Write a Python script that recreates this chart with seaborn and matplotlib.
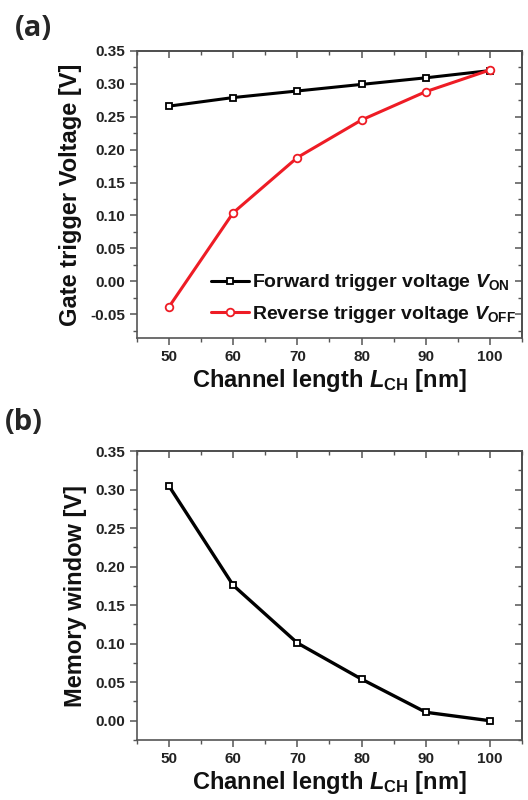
import matplotlib
matplotlib.use("Agg")
import matplotlib.pyplot as plt
import seaborn as sns
from matplotlib.ticker import MultipleLocator

# --- Data ---
channel_length = [50, 60, 70, 80, 90, 100]
v_on = [0.266, 0.279, 0.289, 0.299, 0.309, 0.320]
v_off = [-0.039, 0.104, 0.188, 0.245, 0.288, 0.321]
memory_window = [0.305, 0.176, 0.101, 0.054, 0.011, 0.000]
x_ticks = [50, 60, 70, 80, 90, 100]

sns.set_theme(style="ticks")
plt.rcParams["font.family"] = ["Liberation Sans", "DejaVu Sans"]
plt.rcParams["font.weight"] = "bold"
plt.rcParams["mathtext.fontset"] = "custom"
plt.rcParams["mathtext.it"] = "Liberation Sans:bold:italic"
plt.rcParams["mathtext.rm"] = "Liberation Sans:bold"
plt.rcParams["mathtext.bf"] = "Liberation Sans:bold"

SPINE = "#555555"
RED = "#ee1c25"
XLABEL = r"Channel length $L_{\rm CH}$ [nm]"


def style_axes(ax, ylim, ylabel):
    ax.set_xlim(45, 105)
    ax.set_ylim(*ylim)
    ax.set_xticks(x_ticks)
    ax.xaxis.set_minor_locator(MultipleLocator(5))
    ax.yaxis.set_major_locator(MultipleLocator(0.05))
    ax.yaxis.set_minor_locator(MultipleLocator(0.025))
    ax.yaxis.set_major_formatter(lambda v, p: f"{v:.2f}")
    for s in ax.spines.values():
        s.set_visible(True)
        s.set_color(SPINE)
        s.set_linewidth(1.2)
    ax.tick_params(which="both", direction="out", color=SPINE, labelsize=11,
                   labelcolor="#222222")
    ax.tick_params(which="major", length=5, width=1.1)
    ax.tick_params(which="minor", length=3, width=1.0)
    for lab in ax.get_xticklabels() + ax.get_yticklabels():
        lab.set_fontweight("bold")
    # mirrored ticks on top / right pointing inward
    top = ax.secondary_xaxis("top")
    top.set_xticks(x_ticks)
    top.xaxis.set_minor_locator(MultipleLocator(5))
    top.tick_params(which="both", direction="in", color=SPINE, labeltop=False)
    top.tick_params(which="major", length=5, width=1.1)
    top.tick_params(which="minor", length=3, width=1.0)
    right = ax.secondary_yaxis("right")
    right.yaxis.set_major_locator(MultipleLocator(0.05))
    right.yaxis.set_minor_locator(MultipleLocator(0.025))
    right.tick_params(which="both", direction="in", color=SPINE, labelright=False)
    right.tick_params(which="major", length=5, width=1.1)
    right.tick_params(which="minor", length=3, width=1.0)
    ax.set_xlabel(XLABEL, fontsize=17, fontweight="bold", labelpad=2,
                  color="#111111")
    ax.set_ylabel(ylabel, fontsize=17, fontweight="bold", labelpad=6,
                  color="#111111")


fig = plt.figure(figsize=(5.28, 8), dpi=100)

# --- (a) trigger voltages ---
ax1 = fig.add_axes([0.259, 0.5775, 0.730, 0.359])
sns.lineplot(x=channel_length, y=v_on, ax=ax1, color="black", linewidth=2.2,
             marker="s", markersize=5, markerfacecolor="white",
             markeredgecolor="black", markeredgewidth=1.3,
             label=r"Forward trigger voltage $V_{\rm ON}$")
sns.lineplot(x=channel_length, y=v_off, ax=ax1, color=RED, linewidth=2.2,
             marker="o", markersize=5.5, markerfacecolor="white",
             markeredgecolor=RED, markeredgewidth=1.3,
             label=r"Reverse trigger voltage $V_{\rm OFF}$")
style_axes(ax1, (-0.086, 0.35), "Gate trigger Voltage [V]")
leg = ax1.legend(loc="lower right", frameon=False, fontsize=14,
                 handlelength=2.0, handletextpad=0.15, labelspacing=0.55,
                 borderaxespad=0.0, bbox_to_anchor=(1.005, 0.018))
for t in leg.get_texts():
    t.set_fontweight("bold")
    t.set_color("#111111")

# --- (b) memory window ---
ax2 = fig.add_axes([0.259, 0.075, 0.730, 0.361])
sns.lineplot(x=channel_length, y=memory_window, ax=ax2, color="black",
             linewidth=2.4, marker="s", markersize=5,
             markerfacecolor="white", markeredgecolor="black",
             markeredgewidth=1.3)
style_axes(ax2, (-0.025, 0.35), "Memory window [V]")

fig.text(0.028, 0.982, "(a)", fontsize=21, fontweight="bold",
         family=["Open Sans", "DejaVu Sans"], va="top")
fig.text(0.010, 0.490, "(b)", fontsize=21, fontweight="bold",
         family=["Open Sans", "DejaVu Sans"], va="top")

fig.savefig("out.png", dpi=100)
